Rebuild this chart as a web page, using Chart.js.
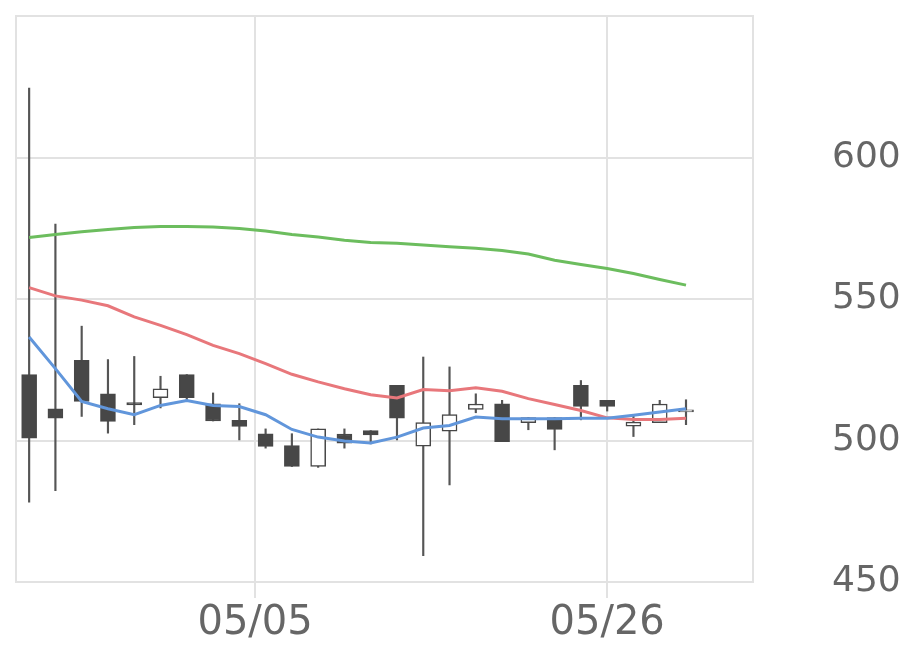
<!DOCTYPE html>
<html>
<head>
<meta charset="utf-8">
<script src="https://cdn.jsdelivr.net/npm/chart.js@4.4.0/dist/chart.umd.min.js"></script>
<style>
    html, body { margin: 0; padding: 0; background: #fff; }
    #wrap { width: 920px; height: 669px; }
</style>
</head>
<body>
<div id="wrap"><canvas id="myChart"></canvas></div>
<script>
// candle data, one entry per session (index 0..25)
const opens  = [523.3, 511.2, 528.3, 516.5, 513.4, 515.1, 523.3, 513.0, 507.1, 502.4, 498.2, 490.8, 502.3,
                503.5, 519.5, 498.0, 503.3, 511.0, 513.0, 506.3, 508.1, 519.5, 514.2, 505.1, 506.3, 510.1];
const highs  = [624.5, 576.5, 540.4, 528.6, 529.7, 522.7, 523.3, 516.8, 513.0, 504.1, 502.4, 504.1, 504.1,
                503.5, 519.5, 529.5, 526.0, 516.5, 514.2, 508.1, 508.1, 521.2, 514.2, 509.1, 514.2, 514.4];
const lows   = [478.2, 482.3, 508.5, 502.6, 505.6, 511.5, 513.8, 506.9, 500.2, 497.3, 490.8, 490.5, 497.3,
                498.8, 500.2, 459.3, 484.3, 509.8, 499.6, 503.8, 496.7, 507.3, 510.4, 501.4, 506.3, 505.6];
const closes = [500.8, 507.9, 513.8, 506.7, 512.6, 518.3, 515.1, 506.9, 505.0, 497.9, 490.8, 504.1, 499.1,
                502.0, 507.9, 506.3, 509.2, 512.9, 499.6, 508.1, 503.9, 512.0, 512.0, 506.5, 512.9, 510.1];

// moving averages
const maShort = [536.6, 525.4, 513.8, 511.2, 509.1, 512.4, 514.1, 512.4, 512.0, 509.1, 503.9, 501.2, 499.8,
                 499.1, 501.2, 504.4, 505.3, 508.3, 507.7, 507.7, 507.7, 507.9, 507.9, 508.9, 510.1, 511.2];
const maMid   = [554.0, 551.1, 549.6, 547.6, 543.7, 540.7, 537.4, 533.6, 530.7, 527.2, 523.4, 520.7, 518.3,
                 516.2, 515.0, 518.0, 517.6, 518.6, 517.4, 514.8, 512.7, 510.6, 508.0, 507.4, 507.4, 507.9];
const maLong  = [571.7, 572.8, 573.8, 574.6, 575.3, 575.6, 575.6, 575.4, 574.9, 574.0, 572.8, 571.9, 570.8,
                 570.0, 569.7, 569.1, 568.5, 567.9, 567.1, 565.9, 563.7, 562.2, 560.8, 559.0, 556.9, 554.9];

// date ticks on the session axis
const tickLabels = ['05/05', '05/26'];
const tickSessions = [8.6, 22];

const yTicks = [450, 500, 550, 600];

const dark = '#474747';
const gridColor = '#e2e2e2';
const textColor = '#666666';

const wicks = highs.map((h, i) => ({ x: i, y: [lows[i], h] }));
const bodies = opens.map((o, i) => ({ x: i, y: [Math.min(o, closes[i]), Math.max(o, closes[i])] }));
const bodyFill = opens.map((o, i) => closes[i] < o ? dark : '#ffffff');

const line = (arr) => arr.map((v, i) => ({ x: i, y: v }));

const frame = {
    id: 'frame',
    beforeDatasetsDraw(chart) {
        const a = chart.chartArea;
        const ctx = chart.ctx;
        ctx.save();
        ctx.strokeStyle = gridColor;
        ctx.lineWidth = 2;
        ctx.strokeRect(a.left, a.top, a.right - a.left, a.bottom - a.top);
        ctx.restore();
    }
};

// no extra room for the tick labels, the layout padding handles it
function noPad(scale) {
    scale.paddingTop = 0;
    scale.paddingBottom = 0;
    scale.paddingLeft = 0;
    scale.paddingRight = 0;
}

const ctx = document.getElementById('myChart').getContext('2d');
const myChart = new Chart(ctx, {
    type: 'bar',
    data: {
        datasets: [
            {
                type: 'line', data: line(maLong), borderColor: '#6cbd5e', borderWidth: 3,
                pointRadius: 0, tension: 0, order: 3
            },
            {
                type: 'line', data: line(maMid), borderColor: '#e8777b', borderWidth: 3,
                pointRadius: 0, tension: 0, order: 2
            },
            {
                type: 'line', data: line(maShort), borderColor: '#6196db', borderWidth: 3,
                pointRadius: 0, tension: 0, order: 1
            },
            {
                data: wicks, backgroundColor: '#555555', barThickness: 1.5,
                grouped: false, order: 5
            },
            {
                data: bodies, backgroundColor: bodyFill, borderColor: dark, borderWidth: 1.5,
                borderSkipped: false, barThickness: 15, minBarLength: 2, grouped: false, order: 4
            }
        ]
    },
    options: {
        responsive: true,
        maintainAspectRatio: false,
        animation: false,
        layout: { padding: { top: 16, left: 16, right: 0, bottom: 0 } },
        plugins: {
            legend: { display: false },
            tooltip: { enabled: false }
        },
        scales: {
            x: {
                type: 'linear',
                offset: false,
                min: -0.5,
                max: 27.55,
                afterBuildTicks: (scale) => {
                    scale.ticks = tickSessions.map(v => ({ value: v }));
                },
                afterFit: (scale) => { scale.height = 87; noPad(scale); },
                border: { display: false },
                grid: { color: gridColor, lineWidth: 2, tickLength: 16, offset: false },
                ticks: {
                    autoSkip: false,
                    maxRotation: 0,
                    padding: 2,
                    color: textColor,
                    font: { family: 'DejaVu Sans', size: 40 },
                    callback: (value) => {
                        const k = tickSessions.indexOf(value);
                        return k >= 0 ? tickLabels[k] : '';
                    }
                }
            },
            y: {
                position: 'right',
                min: 450,
                max: 650,
                afterBuildTicks: (scale) => {
                    scale.ticks = yTicks.concat([650]).map(v => ({ value: v }));
                },
                afterFit: (scale) => { scale.width = 167; noPad(scale); },
                border: { display: false },
                grid: { color: gridColor, lineWidth: 2, drawTicks: false },
                ticks: {
                    padding: 79,
                    color: textColor,
                    font: { family: 'DejaVu Sans', size: 36 },
                    callback: (value) => yTicks.includes(value) ? String(value) : ''
                }
            }
        }
    },
    plugins: [frame]
});
</script>
</body>
</html>
